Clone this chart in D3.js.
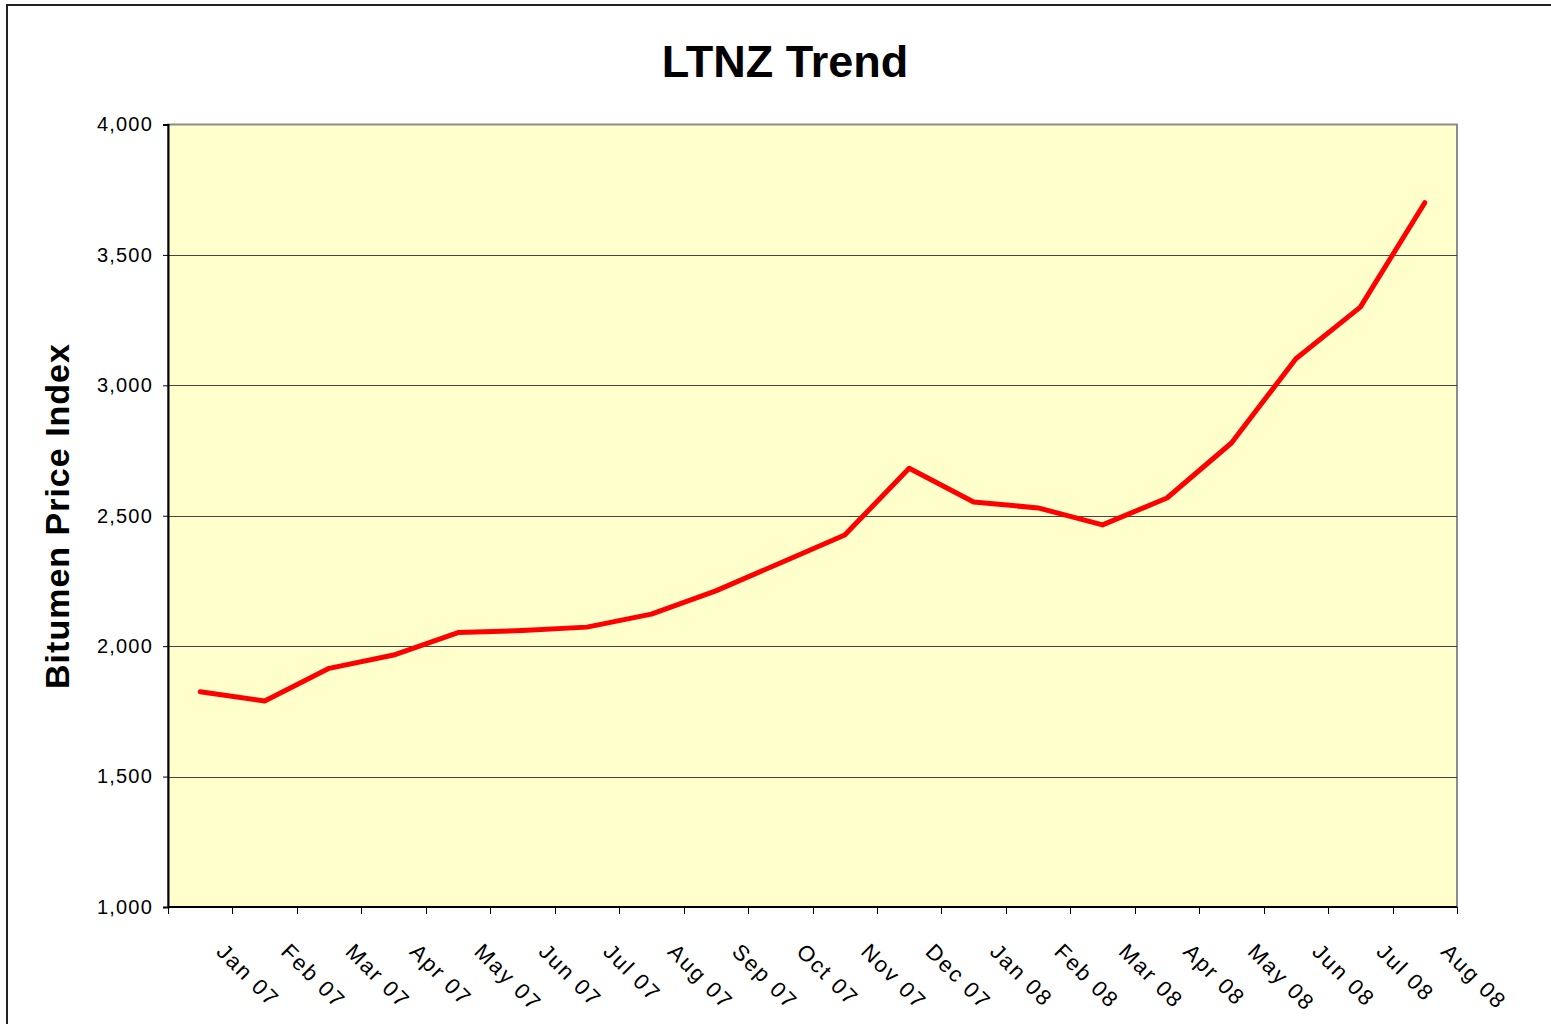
<!DOCTYPE html>
<html>
<head>
<meta charset="utf-8">
<script src="https://cdnjs.cloudflare.com/ajax/libs/d3/7.8.5/d3.min.js"></script>
<style>
  body { margin: 0; background: #fff; }
  svg { display: block; }
  .tick text { font-family: Arial, "Liberation Sans", sans-serif; }
</style>
</head>
<body>
<div id="chart"></div>
<script>
// data
var months = ['Jan 07', 'Feb 07', 'Mar 07', 'Apr 07', 'May 07', 'Jun 07', 'Jul 07', 'Aug 07', 'Sep 07', 'Oct 07',
              'Nov 07', 'Dec 07', 'Jan 08', 'Feb 08', 'Mar 08', 'Apr 08', 'May 08', 'Jun 08', 'Jul 08', 'Aug 08'];
var priceIndex = [1825, 1790, 1915, 1966, 2052, 2060, 2073, 2123, 2212, 2319,
                  2426, 2682, 2553, 2530, 2465, 2568, 2779, 3102, 3300, 3700];
var yTicks = [1000, 1500, 2000, 2500, 3000, 3500, 4000];

var W = 1551, H = 1024;
var plot = { left: 168, top: 124.5, right: 1457, bottom: 907 };

var svg = d3.select('#chart').append('svg')
  .attr('width', W)
  .attr('height', H);

// outer chart border (right/bottom sides fall off the picture)
svg.append('rect')
  .attr('x', 7).attr('y', 5)
  .attr('width', W + 20).attr('height', H + 20)
  .attr('fill', '#fff')
  .attr('stroke', '#222')
  .attr('stroke-width', 2);

var x = d3.scaleBand()
  .domain(months)
  .range([plot.left, plot.right])
  .paddingInner(0).paddingOuter(0);

var y = d3.scaleLinear()
  .domain([1000, 4000])
  .range([plot.bottom, plot.top]);

// plot area
svg.append('rect')
  .attr('x', plot.left).attr('y', plot.top)
  .attr('width', plot.right - plot.left)
  .attr('height', plot.bottom - plot.top)
  .attr('fill', '#FFFFCC')
  .attr('stroke', '#8c8c8c')
  .attr('stroke-width', 2);

// gridlines
svg.append('g')
  .selectAll('line')
  .data(yTicks.filter(function(d) { return d > 1000 && d < 4000; }))
  .enter().append('line')
  .attr('x1', plot.left).attr('x2', plot.right)
  .attr('y1', function(d) { return Math.round(y(d)) + 0.5; })
  .attr('y2', function(d) { return Math.round(y(d)) + 0.5; })
  .attr('stroke', '#444')
  .attr('stroke-width', 1);

// y axis
var yAxis = svg.append('g')
  .attr('transform', 'translate(' + plot.left + ',0)')
  .call(d3.axisLeft(y).tickValues(yTicks).tickSize(5).tickPadding(10)
    .tickFormat(d3.format(',')));
yAxis.select('.domain').attr('stroke', '#000').attr('stroke-width', 2);
yAxis.selectAll('.tick line').attr('stroke', '#000');
yAxis.selectAll('.tick text')
  .attr('font-size', '20px')
  .attr('letter-spacing', '1.2px')
  .attr('fill', '#000');

// x axis - ticks on category boundaries
var xAxisG = svg.append('g');
xAxisG.append('line')
  .attr('x1', plot.left).attr('x2', plot.right)
  .attr('y1', plot.bottom).attr('y2', plot.bottom)
  .attr('stroke', '#000').attr('stroke-width', 2);
var bounds = months.map(function(m) { return x(m); }).concat([plot.right]);
xAxisG.selectAll('line.tk')
  .data(bounds)
  .enter().append('line')
  .attr('class', 'tk')
  .attr('x1', function(d) { return Math.round(d) + 0.5; })
  .attr('x2', function(d) { return Math.round(d) + 0.5; })
  .attr('y1', plot.bottom).attr('y2', plot.bottom + 7)
  .attr('stroke', '#000').attr('stroke-width', 1);
xAxisG.selectAll('text')
  .data(months)
  .enter().append('text')
  .attr('transform', function(d) {
    var cx = x(d) + x.bandwidth() / 2;
    return 'translate(' + (cx + 15) + ',' + 953 + ') rotate(45)';
  })
  .attr('font-family', 'Arial, "Liberation Sans", sans-serif')
  .attr('font-size', '22px')
  .attr('letter-spacing', '2px')
  .attr('fill', '#000')
  .text(function(d) { return d; });

// the line
var line = d3.line()
  .x(function(d, i) { return x(months[i]) + x.bandwidth() / 2; })
  .y(function(d) { return y(d); });

svg.append('path')
  .datum(priceIndex)
  .attr('d', line)
  .attr('fill', 'none')
  .attr('stroke', '#FF0000')
  .attr('stroke-width', 5)
  .attr('stroke-linejoin', 'round')
  .attr('stroke-linecap', 'round');

// title
svg.append('text')
  .attr('x', 785).attr('y', 77)
  .attr('text-anchor', 'middle')
  .attr('font-family', 'Arial, "Liberation Sans", sans-serif')
  .attr('font-weight', 'bold')
  .attr('font-size', '45px')
  .attr('fill', '#000')
  .text('LTNZ Trend');

// y axis title
svg.append('text')
  .attr('transform', 'translate(69,' + 516 + ') rotate(-90)')
  .attr('text-anchor', 'middle')
  .attr('font-family', 'Arial, "Liberation Sans", sans-serif')
  .attr('font-weight', 'bold')
  .attr('font-size', '34px')
  .attr('letter-spacing', '1px')
  .attr('fill', '#000')
  .text('Bitumen Price Index');
</script>
</body>
</html>
